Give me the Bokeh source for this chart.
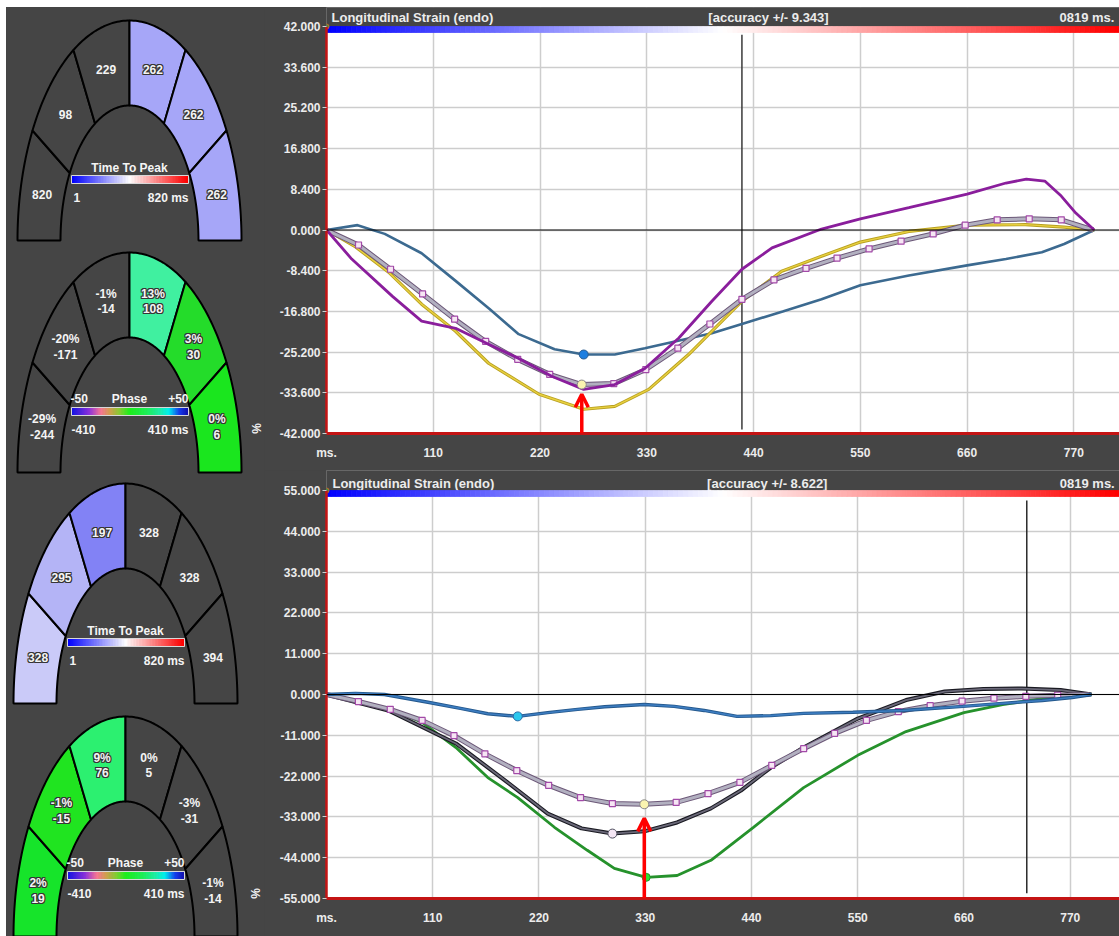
import numpy as np
from bokeh.plotting import figure
from bokeh.layouts import row, column
from bokeh.models import Range1d, FixedTicker, NumeralTickFormatter, Span, Arrow, OpenHead
from bokeh.core.properties import value
from bokeh.embed import file_html
from bokeh.resources import INLINE

BG = "#454545"
FONT = "Liberation Sans"
TXT = "#ececec"

# ---------------- segment diagrams (left panel) ----------------
# segment order: left-bottom, left-mid, left-top, right-top, right-mid, right-bottom
ttp1_labels = ["820", "98", "229", "262", "262", "262"]
ttp1_colors = [None, None, None, "#a6a6f8", "#a6a6f8", "#a6a6f8"]

phase1_pct = ["-29%", "-20%", "-1%", "13%", "3%", "0%"]
phase1_ms = ["-244", "-171", "-14", "108", "30", "6"]
phase1_colors = [None, None, None, "#40f0a0", "#24dc2a", "#1ae61e"]

ttp2_labels = ["328", "295", "197", "328", "328", "394"]
ttp2_colors = ["#cacaf8", "#b4b4f6", "#8282f5", None, None, None]

phase2_pct = ["2%", "-1%", "9%", "0%", "-3%", "-1%"]
phase2_ms = ["19", "-15", "76", "5", "-31", "-14"]
phase2_colors = ["#16e42a", "#20e420", "#2cf070", None, None, None]

ttp_scale = ["1", "820 ms"]
phase_scale = ["-50", "+50", "-410", "410 ms"]

# ---------------- strain curves (time in ms, strain in %) ----------------
top_x_ticks = [0, 110, 220, 330, 440, 550, 660, 770]
top_y_ticks = [42.0, 33.6, 25.2, 16.8, 8.4, 0.0, -8.4, -16.8, -25.2, -33.6, -42.0]

top_blue_t = [0, 32, 60, 98, 133, 168, 198, 235, 265, 297, 328, 359, 397, 428, 470, 510, 550, 600, 660, 700, 737, 760, 791]
top_blue_v = [0, 1.0, -0.8, -4.8, -10.5, -16.3, -21.5, -24.6, -25.7, -25.7, -24.4, -23.0, -21.3, -19.4, -16.8, -14.3, -11.4, -9.4, -7.3, -6.0, -4.6, -2.9, 0]

top_purple_t = [0, 26, 68, 98, 133, 167, 198, 232, 265, 297, 328, 363, 397, 428, 459, 510, 550, 600, 660, 700, 721, 740, 757, 772, 791]
top_purple_v = [0, -6.0, -13.7, -18.8, -20.3, -23.6, -26.5, -30.2, -32.9, -31.9, -28.6, -22.3, -14.7, -8.1, -3.7, 0.2, 2.3, 4.6, 7.4, 9.7, 10.5, 10.1, 7.0, 3.5, 0]

top_yellow_t = [0, 30, 64, 98, 133, 167, 219, 265, 297, 332, 373, 428, 469, 510, 550, 600, 660, 720, 760, 791]
top_yellow_v = [0, -3.5, -8.7, -15.3, -20.9, -27.5, -33.9, -37.0, -36.4, -32.9, -25.7, -14.7, -8.5, -5.4, -2.5, -0.3, 1.0, 1.1, 0.6, 0]

top_avg_t = [0, 33, 66, 99, 132, 164, 197, 230, 263, 296, 329, 362, 395, 428, 461, 494, 526, 559, 592, 625, 658, 691, 724, 757, 790]
top_avg_v = [0, -3.1, -8.1, -13.2, -18.4, -23.0, -26.7, -29.8, -31.9, -31.7, -28.8, -24.4, -19.4, -14.3, -10.3, -7.9, -5.8, -3.9, -2.3, -0.8, 1.0, 2.1, 2.3, 2.1, 0]

top_peak_t = 263
top_blue_peak = (265, -25.7)
top_avg_peak = (263, -31.9)
top_arrow_tip = -33.9
top_cursor = 428

bot_x_ticks = [0, 110, 220, 330, 440, 550, 660, 770]
bot_y_ticks = [55.0, 44.0, 33.0, 22.0, 11.0, 0.0, -11.0, -22.0, -33.0, -44.0, -55.0]

bot_blue_t = [0, 30, 60, 105, 140, 167, 198, 229, 260, 288, 329, 360, 391, 425, 460, 494, 545, 597, 659, 700, 741, 772, 792]
bot_blue_v = [0, 0.3, 0, -2.1, -3.8, -5.2, -5.9, -4.9, -4.0, -3.3, -2.7, -3.2, -4.3, -5.9, -5.7, -5.1, -4.8, -4.3, -3.2, -2.4, -1.6, -0.8, 0]

bot_green_t = [0, 64, 99, 134, 167, 198, 236, 270, 298, 331, 363, 398, 442, 494, 550, 600, 660, 700, 741, 772, 792]
bot_green_v = [0, -3.8, -7.5, -14.3, -22.4, -27.8, -35.8, -42.0, -46.9, -49.3, -48.8, -44.7, -35.8, -25.1, -16.4, -10.0, -4.9, -2.7, -1.1, -0.3, 0]

bot_dark_t = [0, 64, 134, 185, 229, 264, 296, 329, 363, 398, 429, 460, 494, 550, 600, 640, 680, 720, 760, 792]
bot_dark_v = [0, -4.3, -13.2, -23.2, -32.1, -36.1, -37.5, -36.9, -34.5, -30.7, -25.9, -19.7, -14.3, -6.5, -1.5, 0.8, 1.5, 1.6, 1.2, 0]

bot_avg_t = [0, 33, 66, 99, 132, 164, 197, 230, 263, 296, 329, 362, 395, 428, 461, 494, 526, 559, 592, 625, 658, 691, 724, 757, 790]
bot_avg_v = [0, -1.9, -4.0, -7.0, -11.1, -16.0, -20.5, -24.5, -27.8, -29.4, -29.6, -29.1, -26.7, -23.7, -19.1, -14.6, -10.5, -7.0, -4.6, -3.0, -1.8, -1.0, -0.5, -0.2, 0]

bot_blue_peak = (198, -5.9)
bot_dark_peak = (296, -37.5)
bot_avg_peak = (329, -29.6)
bot_green_peak = (331, -49.3)
bot_peak_t = 329
bot_arrow_tip = -33.4
bot_cursor = 725


def ramp(stops, n):
    pos = np.array([s[0] for s in stops])
    cols = np.array([s[1] for s in stops], dtype=float)
    f = np.linspace(0, 1, n)
    chans = [np.interp(f, pos, cols[:, k]) for k in range(3)]
    return ["#%02x%02x%02x" % (int(r), int(g), int(b)) for r, g, b in zip(*chans)]


BWR = [(0.0, (0, 0, 255)), (0.5, (255, 255, 255)), (1.0, (255, 0, 0))]
PHASE = [(0.0, (20, 20, 230)), (0.15, (140, 50, 220)), (0.25, (250, 120, 150)),
         (0.33, (210, 160, 80)), (0.42, (130, 210, 50)), (0.5, (30, 240, 30)),
         (0.65, (30, 240, 90)), (0.76, (30, 240, 170)), (0.84, (0, 240, 240)),
         (0.93, (20, 60, 240)), (1.0, (20, 20, 180))]

# ---------------- left panel ----------------
OUT_A, OUT_B, IN_A, IN_B = 112, 220, 69, 135

left = figure(width=258, height=929, x_range=Range1d(6, 264), y_range=Range1d(936, 7),
              x_axis_type=None, y_axis_type=None, output_backend="svg",
              toolbar_location=None, min_border=0, background_fill_color=BG,
              border_fill_color=BG, outline_line_color=None)
left.grid.visible = False


def ellipse_pt(cx, cy, a, b, deg):
    t = np.radians(deg)
    return cx - a * np.cos(t), cy - b * np.sin(t)


def seg_poly(cx, cy, j):
    d = np.linspace(30 * j, 30 * (j + 1), 30)
    xo, yo = ellipse_pt(cx, cy, OUT_A, OUT_B, d)
    xi, yi = ellipse_pt(cx, cy, IN_A, IN_B, d[::-1])
    return list(np.concatenate([xo, xi])), list(np.concatenate([yo, yi]))


def seg_center(cx, cy, j):
    d = 30 * j + 15
    xo, yo = ellipse_pt(cx, cy, OUT_A, OUT_B, d)
    xi, yi = ellipse_pt(cx, cy, IN_A, IN_B, d)
    return (xo + xi) / 2, (yo + yi) / 2


def draw_text(xs, ys, texts, halo, align="center", angle=0.0):
    kw = dict(text_align=align, text_baseline="middle", text_font=value(FONT),
              text_font_style="bold", text_font_size="12px", angle=angle)
    if halo:
        for dx in (-1, 0, 1):
            for dy in (-1, 0, 1):
                if dx or dy:
                    left.text([x + dx for x in xs], [y + dy for y in ys], text=texts,
                              text_color="#353535", **kw)
    left.text(xs, ys, text=texts, text_color="#f4f4f4", **kw)


def diagram(cx, cy, colors, line1, line2, kind):
    xs, ys, fills = [], [], []
    for j in range(6):
        px, py = seg_poly(cx, cy, j)
        xs.append(px)
        ys.append(py)
        fills.append(colors[j] if colors[j] else BG)
    left.patches(xs, ys, fill_color=fills, line_color="black", line_width=2)
    for j in range(6):
        mx, my = seg_center(cx, cy, j)
        halo = colors[j] is not None
        if line2 is None:
            draw_text([mx], [my], [line1[j]], halo)
        else:
            draw_text([mx], [my - 7.5], [line1[j]], halo)
            draw_text([mx], [my + 7.5], [line2[j]], halo)
    # colour scale
    n = 80
    edges = np.linspace(cx - 58, cx + 59, n + 1)
    cmap = ramp(BWR if kind == "ttp" else PHASE, n)
    left.quad(left=edges[:-1], right=edges[1:], top=cy - 65, bottom=cy - 57,
              fill_color=cmap, line_color=cmap, line_width=0.8)
    left.quad(left=[cx - 58], right=[cx + 59], top=[cy - 65], bottom=[cy - 57],
              fill_color=None, line_color="#d8d8d8", line_width=1)
    if kind == "ttp":
        draw_text([cx], [cy - 73], ["Time To Peak"], False)
        draw_text([cx - 56], [cy - 43], [ttp_scale[0]], False, "left")
        draw_text([cx + 59], [cy - 43], [ttp_scale[1]], False, "right")
    else:
        draw_text([cx - 59], [cy - 74], [phase_scale[0]], False, "left")
        draw_text([cx], [cy - 74], ["Phase"], False)
        draw_text([cx + 59], [cy - 74], [phase_scale[1]], False, "right")
        draw_text([cx - 58], [cy - 43], [phase_scale[2]], False, "left")
        draw_text([cx + 59], [cy - 43], [phase_scale[3]], False, "right")


diagram(129, 240, ttp1_colors, ttp1_labels, None, "ttp")
diagram(129, 472, phase1_colors, phase1_pct, phase1_ms, "phase")
diagram(125, 703, ttp2_colors, ttp2_labels, None, "ttp")
diagram(125, 936, phase2_colors, phase2_pct, phase2_ms, "phase")

# y-axis unit marks of the two strain plots
draw_text([256, 255], [428, 893], ["%", "%"], False, angle=np.pi / 2)


# ---------------- strain plots ----------------
def strain_plot(width, height, x_ticks, y_ticks, x_end, b_left, hdr_px, b_bottom,
                accuracy, hdr_dy, hdr_pos):
    ymax, ymin = y_ticks[0], y_ticks[-1]
    frame_h = height - b_bottom
    ppu = (frame_h - hdr_px) / (ymax - ymin)
    ytop = ymax + hdr_px / ppu
    ppx = (width - b_left) / x_end
    p = figure(width=width, height=height, x_range=Range1d(0, x_end),
               y_range=Range1d(ymin, ytop), output_backend="svg", toolbar_location=None,
               min_border_left=b_left, min_border_right=0, min_border_top=0,
               min_border_bottom=b_bottom, background_fill_color="white",
               border_fill_color=BG, outline_line_color=None)
    p.xaxis.ticker = FixedTicker(ticks=x_ticks)
    p.yaxis.ticker = FixedTicker(ticks=y_ticks)
    p.xgrid.ticker = FixedTicker(ticks=x_ticks)
    p.ygrid.ticker = FixedTicker(ticks=y_ticks)
    p.grid.grid_line_color = "#cdcdcd"
    p.grid.grid_line_width = 1.5
    p.xaxis.major_label_overrides = {0: "ms."}
    p.yaxis.formatter = NumeralTickFormatter(format="0.000")
    p.yaxis.bounds = (ymin, ymax)
    for ax in (p.xaxis, p.yaxis):
        ax.major_label_text_color = TXT
        ax.major_label_text_font = FONT
        ax.major_label_text_font_style = "bold"
        ax.major_label_text_font_size = "12px"
        ax.minor_tick_line_color = None
        ax.axis_line_color = "#c41414"
    p.yaxis.axis_line_width = 2.5
    p.xaxis.axis_line_width = 3
    p.xaxis.major_tick_line_color = None
    p.xaxis.major_label_standoff = 6
    p.yaxis.major_tick_line_color = "#d0d0d0"
    p.yaxis.major_tick_out = 4
    p.yaxis.major_tick_in = 0
    p.yaxis.major_label_standoff = 2

    # header strip above the graph area
    p.quad(left=[0], right=[x_end], bottom=[ymax], top=[ytop], fill_color=BG,
           line_color=BG, line_width=1)
    hy = [ymax + hdr_dy / ppu]
    hk = dict(text_color=TXT, text_font=value(FONT), text_font_style="bold",
              text_font_size="13px", text_baseline="middle")
    p.text([hdr_pos[0] / ppx], hy, text=["Longitudinal Strain (endo)"], text_align="left", **hk)
    p.text([hdr_pos[1] / ppx], hy, text=["[accuracy +/- %s]" % accuracy], text_align="center", **hk)
    p.text([hdr_pos[2] / ppx], hy, text=["0819 ms."], text_align="left", **hk)

    # colour band along the top of the graph area
    n = 160
    band = 6.0 / ppu
    edges = np.linspace(0, x_end, n + 1)
    cols = ramp(BWR, n)
    p.quad(left=edges[:-1], right=edges[1:], top=ymax, bottom=ymax - band,
           fill_color=cols, line_color=cols, line_width=0.8)
    p.scatter([0], [ymax], size=5, fill_color="#3c9c3c", line_color="#c86428")

    p.add_layout(Span(location=0, dimension="width", line_color="black", line_width=1))
    return p


def avg_line(p, t, v):
    p.line(t, v, line_color="#6c5878", line_width=5)
    p.line(t, v, line_color="#b2b0c0", line_width=3)
    p.scatter(t[1:-1], v[1:-1], marker="square", size=6, fill_color="#f6e6f4",
              line_color="#a24aa8", line_width=1.2)


# top plot
p1 = strain_plot(855, 463, top_x_ticks, top_y_ticks, 817, 62, 19, 37, "9.343", 9,
                 (5, 442, 733))
p1.segment(x0=[top_cursor], y0=[40.3], x1=[top_cursor], y1=[-41.2],
           line_color="#3a3a3a", line_width=1.5)
p1.line(top_blue_t, top_blue_v, line_color="#3c6a90", line_width=2.6)
p1.line(top_yellow_t, top_yellow_v, line_color="#b8a020", line_width=3.2)
p1.line(top_yellow_t, top_yellow_v, line_color="#e8d040", line_width=1.4)
avg_line(p1, top_avg_t, top_avg_v)
p1.line(top_purple_t, top_purple_v, line_color="#8a1e9c", line_width=2.8)
p1.scatter([top_blue_peak[0]], [top_blue_peak[1]], size=9, fill_color="#1e7ee0",
           line_color="#2a5c90")
p1.scatter([top_avg_peak[0]], [top_avg_peak[1]], size=9, fill_color="#fbf4b0",
           line_color="#8a8a8a")
p1.add_layout(Arrow(end=OpenHead(line_color="#ff0000", line_width=3.5, size=13),
                    x_start=top_peak_t, y_start=top_y_ticks[-1], x_end=top_peak_t,
                    y_end=top_arrow_tip, line_color="#ff0000", line_width=3.5))

# bottom plot
p2 = strain_plot(855, 466, bot_x_ticks, bot_y_ticks, 821, 58, 20, 38, "8.622", 7,
                 (6, 443, 737))
p2.segment(x0=[bot_cursor], y0=[52.3], x1=[bot_cursor], y1=[-53.6],
           line_color="#2a2a2a", line_width=1.5)
p2.line(bot_green_t, bot_green_v, line_color="#26922c", line_width=2.8)
p2.line(bot_dark_t, bot_dark_v, line_color="#1a1a22", line_width=4)
p2.line(bot_dark_t, bot_dark_v, line_color="#6a6878", line_width=1.8)
avg_line(p2, bot_avg_t, bot_avg_v)
p2.line(bot_blue_t, bot_blue_v, line_color="#24588c", line_width=3.4)
p2.line(bot_blue_t, bot_blue_v, line_color="#3c7cc0", line_width=1.6)
p2.scatter([bot_blue_peak[0]], [bot_blue_peak[1]], size=9, fill_color="#2cc8ee",
           line_color="#2a6aa8")
p2.scatter([bot_dark_peak[0]], [bot_dark_peak[1]], size=9, fill_color="#f4e6f4",
           line_color="#505060")
p2.scatter([bot_avg_peak[0]], [bot_avg_peak[1]], size=9, fill_color="#fbf4b0",
           line_color="#8a8a8a")
p2.scatter([bot_green_peak[0]], [bot_green_peak[1]], size=8, fill_color="#30e030",
           line_color="#26922c")
p2.add_layout(Arrow(end=OpenHead(line_color="#ff0000", line_width=3.5, size=13),
                    x_start=bot_peak_t, y_start=bot_y_ticks[-1], x_end=bot_peak_t,
                    y_end=bot_arrow_tip, line_color="#ff0000", line_width=3.5))

right = column(p1, p2, spacing=0, styles={"background-color": BG})
layout = row(left, right, spacing=0, margin=(7, 0, 0, 6),
             styles={"background-color": BG})

open("out.html", "w").write(file_html(layout, INLINE))
